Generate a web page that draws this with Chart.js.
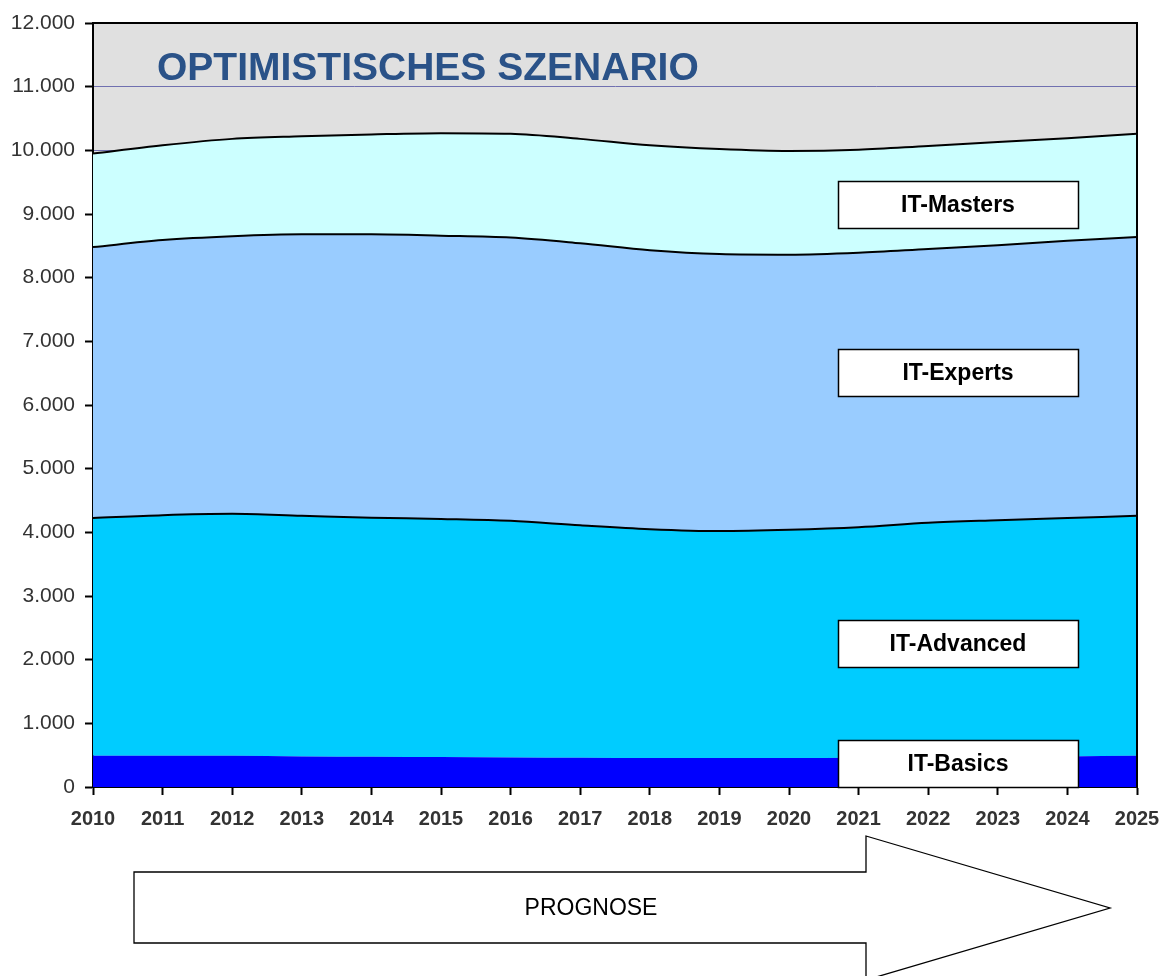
<!DOCTYPE html>
<html><head><meta charset="utf-8">
<script src="https://cdn.jsdelivr.net/npm/chart.js@4"></script>
<style>html,body{margin:0;padding:0;background:#fff}#wrap{width:1169px;height:976px}</style>
</head><body><div id="wrap"><canvas id="c" width="1169" height="976"></canvas></div>
<script>
const years = [2010,2011,2012,2013,2014,2015,2016,2017,2018,2019,2020,2021,2022,2023,2024,2025];
const itBasics   = [490,490,490,480,475,470,465,460,455,455,455,460,465,470,480,490];
const itAdvanced = [3735,3780,3800,3780,3755,3740,3715,3650,3595,3565,3585,3620,3685,3720,3745,3770];
const itExperts  = [4255,4320,4360,4420,4450,4450,4450,4430,4380,4350,4320,4310,4300,4320,4355,4380];
const itMasters  = [1470,1490,1530,1540,1570,1610,1630,1640,1650,1650,1630,1620,1620,1620,1610,1620];
const seriesNames = ['IT-Basics','IT-Advanced','IT-Experts','IT-Masters'];
const yTicks = [0,1000,2000,3000,4000,5000,6000,7000,8000,9000,10000,11000,12000];
const titleText = 'OPTIMISTISCHES SZENARIO';
const arrowText = 'PROGNOSE';

function fmt(v){ return String(v).replace(/\B(?=(\d{3})+(?!\d))/g,'.'); }
const pts = arr => arr.map((v,i)=>({x:years[i], y:v}));
const FF = '"Liberation Sans", Arial, sans-serif';

const deco = {
  id:'deco',
  beforeDraw(chart){
    const {ctx, chartArea:a} = chart;
    ctx.save(); ctx.fillStyle='#e0e0e0';
    ctx.fillRect(a.left,a.top,a.right-a.left,a.bottom-a.top); ctx.restore();
  },
  afterDraw(chart){
    const {ctx, chartArea:a} = chart;
    ctx.save();
    ctx.strokeStyle='#000'; ctx.lineWidth=2;
    ctx.beginPath(); ctx.moveTo(a.left,a.top); ctx.lineTo(a.right,a.top); ctx.lineTo(a.right,a.bottom); ctx.stroke();
    ctx.fillStyle='#2a5288'; ctx.font='bold 39px '+FF;
    ctx.textBaseline='alphabetic'; ctx.textAlign='left';
    ctx.fillText(titleText, 157, 80);
    const boxes = [[seriesNames[3],181],[seriesNames[2],349],[seriesNames[1],620],[seriesNames[0],740]];
    ctx.font='bold 23px '+FF;
    boxes.forEach(([t,y])=>{
      ctx.fillStyle='#fff'; ctx.fillRect(838,y,240,47);
      ctx.strokeStyle='#000'; ctx.lineWidth=1.5; ctx.strokeRect(838.5,y+0.5,240,47);
      ctx.fillStyle='#000'; ctx.textAlign='center'; ctx.textBaseline='middle';
      ctx.fillText(t, 958, y+25);
    });
    ctx.beginPath();
    ctx.moveTo(134,872); ctx.lineTo(866,872); ctx.lineTo(866,836); ctx.lineTo(1110,908);
    ctx.lineTo(866,980); ctx.lineTo(866,943); ctx.lineTo(134,943); ctx.closePath();
    ctx.fillStyle='#fff'; ctx.fill(); ctx.strokeStyle='#000'; ctx.lineWidth=1.3; ctx.stroke();
    ctx.fillStyle='#000'; ctx.font='23px '+FF;
    ctx.textAlign='center'; ctx.textBaseline='middle';
    ctx.fillText(arrowText, 591, 909);
    ctx.restore();
  }
};

const mk = (label,data,color,bw,fill) => ({label,data:pts(data),backgroundColor:color,borderColor:'#000',
  borderWidth:bw,fill,pointRadius:0,tension:0.4,cubicInterpolationMode:'monotone'});

new Chart(document.getElementById('c'),{
  type:'line',
  data:{datasets:[
    mk(seriesNames[0],itBasics,'#0000ff',0,'origin'),
    mk(seriesNames[1],itAdvanced,'#00ccff',2,'-1'),
    mk(seriesNames[2],itExperts,'#99ccff',2,'-1'),
    mk(seriesNames[3],itMasters,'#ccffff',2,'-1'),
  ]},
  options:{
    responsive:false,animation:false,
    layout:{padding:{top:23,right:32,left:0,bottom:0}},
    plugins:{legend:{display:false},tooltip:{enabled:false}},
    scales:{
      x:{type:'linear',min:2010,max:2025,
        afterFit(s){s.height=189; s.paddingLeft=0; s.paddingRight=0;},
        border:{color:'#000',width:2},
        grid:{color:'rgba(0,0,0,0)',tickColor:'#000',tickLength:8,tickWidth:2},
        ticks:{stepSize:1,padding:12,color:'#333',maxRotation:0,autoSkip:false,
          font:{family:FF,size:20,weight:'bold'},
          callback:v=>String(v)}},
      y:{stacked:true,min:0,max:12000,
        afterFit(s){s.width=93;},
        afterBuildTicks(s){s.ticks=yTicks.map(v=>({value:v}));},
        border:{color:'#000',width:2},
        grid:{color:'#7070b0',lineWidth:1,tickColor:'#000',tickLength:8,tickWidth:2},
        ticks:{padding:10,color:'#333',
          font:{family:FF,size:21},
          callback:v=>fmt(v)}}
    }
  },
  plugins:[deco]
});
</script></body></html>
